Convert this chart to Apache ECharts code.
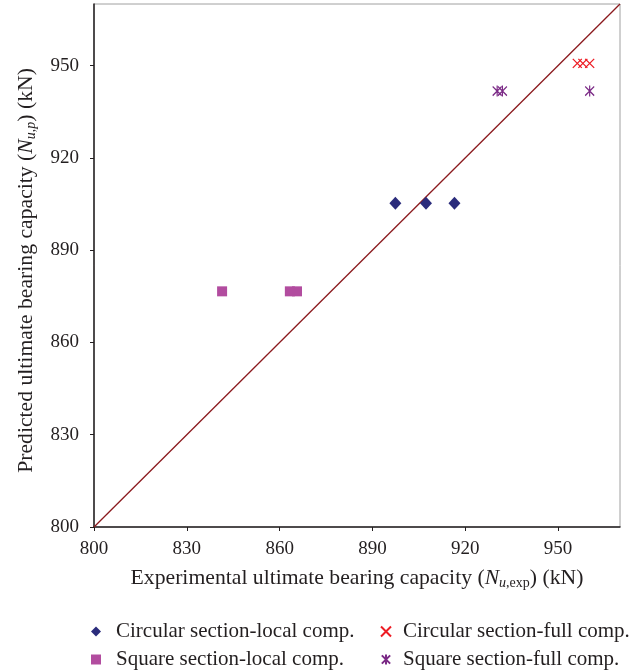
<!DOCTYPE html>
<html>
<head>
<meta charset="utf-8">
<script src="https://cdn.jsdelivr.net/npm/echarts@6/dist/echarts.min.js"></script>
<style>html,body{margin:0;padding:0;background:#fff}#c{width:643px;height:671px}</style>
</head>
<body>
<div id="c"></div>
<script>
var axisTicks = [800, 830, 860, 890, 920, 950];
var seriesNames = ['Circular section-local comp.', 'Square section-local comp.', 'Circular section-full comp.', 'Square section-full comp.'];
var circLocalX = [897.4, 907.3, 916.5];
var circLocalY = [905.2, 905.2, 905.2];
var sqLocalX = [841.4, 863.3, 865.6];
var sqLocalY = [876.6, 876.6, 876.6];
var circFullX = [956.2, 958.0, 960.2];
var circFullY = [950.7, 950.7, 950.7];
var sqFullX = [930.3, 932.0, 960.2];
var sqFullY = [941.7, 941.7, 941.7];
var refLine = [800, 970];

function pairs(xs, ys) { return xs.map(function (x, i) { return [x, ys[i]]; }); }

var FONT = '"Liberation Serif", "DejaVu Serif", serif';
var TXT = '#231f20';
var richName = {
  n: { fontFamily: FONT, fontSize: 21.7, color: TXT, lineHeight: 24 },
  i: { fontFamily: FONT, fontSize: 21.7, fontStyle: 'italic', color: TXT, lineHeight: 24 },
  s: { fontFamily: FONT, fontSize: 14, color: TXT, lineHeight: 14, verticalAlign: 'bottom' },
  si: { fontFamily: FONT, fontSize: 14, fontStyle: 'italic', color: TXT, lineHeight: 14, verticalAlign: 'bottom' }
};

var chart = echarts.init(document.getElementById('c'), null, { renderer: 'canvas' });
chart.setOption({
  animation: false,
  backgroundColor: '#fff',
  grid: { left: 94, right: 23, top: 4, bottom: 144, show: true, borderColor: '#a0a0a0', borderWidth: 1, backgroundColor: 'transparent' },
  xAxis: {
    type: 'value', min: 800, max: 970, interval: 30,
    splitLine: { show: false },
    axisLine: { show: true, onZero: false, lineStyle: { color: TXT, width: 1.5 } },
    axisTick: { show: true, length: 4, customValues: axisTicks, lineStyle: { color: TXT } },
    axisLabel: { customValues: axisTicks, fontFamily: FONT, fontSize: 19, color: TXT, margin: 13 },
    name: '{n|Experimental ultimate bearing capacity (}{i|N}{si|u}{s|,exp}{n|) (kN)}',
    nameLocation: 'middle', nameGap: 39,
    nameTextStyle: { rich: richName }
  },
  yAxis: {
    type: 'value', min: 800, max: 970, interval: 30,
    splitLine: { show: false },
    axisLine: { show: true, onZero: false, lineStyle: { color: TXT, width: 1.5 } },
    axisTick: { show: true, length: 4, customValues: axisTicks, lineStyle: { color: TXT } },
    axisLabel: { customValues: axisTicks, fontFamily: FONT, fontSize: 19, color: TXT, margin: 15 },
    name: '{n|Predicted ultimate bearing capacity (}{i|N}{si|u,p}{n|) (kN)}',
    nameLocation: 'middle', nameGap: 56, nameRotate: 90,
    nameTextStyle: { rich: richName, padding: [0, 10, 0, 0] }
  },
  legend: [
    {
      orient: 'vertical', left: 91, top: 621, padding: 0, itemGap: 7, itemWidth: 10, itemHeight: 10,
      data: [seriesNames[0], seriesNames[1]],
      textStyle: { fontFamily: FONT, fontSize: 21, color: TXT, padding: [0, 0, 0, 10] }
    },
    {
      orient: 'vertical', left: 380, top: 621, padding: 0, itemGap: 7, itemWidth: 10, itemHeight: 10,
      data: [seriesNames[2], seriesNames[3]],
      textStyle: { fontFamily: FONT, fontSize: 21, color: TXT, padding: [0, 0, 0, 7] }
    }
  ],
  series: [
    {
      type: 'line', data: [[refLine[0], refLine[0]], [refLine[1], refLine[1]]],
      showSymbol: false, symbol: 'none', silent: true,
      lineStyle: { color: '#8b1a1e', width: 1.3 }, z: 1
    },
    {
      name: seriesNames[0], type: 'scatter', data: pairs(circLocalX, circLocalY),
      symbol: 'diamond', symbolSize: [12, 13], itemStyle: { color: '#2b2c7c', opacity: 1 }, z: 3
    },
    {
      name: seriesNames[1], type: 'scatter', data: pairs(sqLocalX, sqLocalY),
      symbol: 'rect', symbolSize: 10, itemStyle: { color: '#b24c9f', opacity: 1 }, z: 3
    },
    {
      name: seriesNames[2], type: 'scatter', data: pairs(circFullX, circFullY),
      symbol: 'path://M0,0L10,10M10,0L0,10', symbolSize: 9,
      itemStyle: { color: 'rgba(0,0,0,0)', borderColor: '#ed1c24', borderWidth: 1.3, opacity: 1 }, z: 3
    },
    {
      name: seriesNames[3], type: 'scatter', data: pairs(sqFullX, sqFullY),
      symbol: 'path://M0,1L10,11M10,1L0,11M5,0L5,12', symbolSize: [9, 11],
      itemStyle: { color: 'rgba(0,0,0,0)', borderColor: '#7b2a86', borderWidth: 1.3, opacity: 1 }, z: 3
    }
  ]
});
</script>
</body>
</html>
